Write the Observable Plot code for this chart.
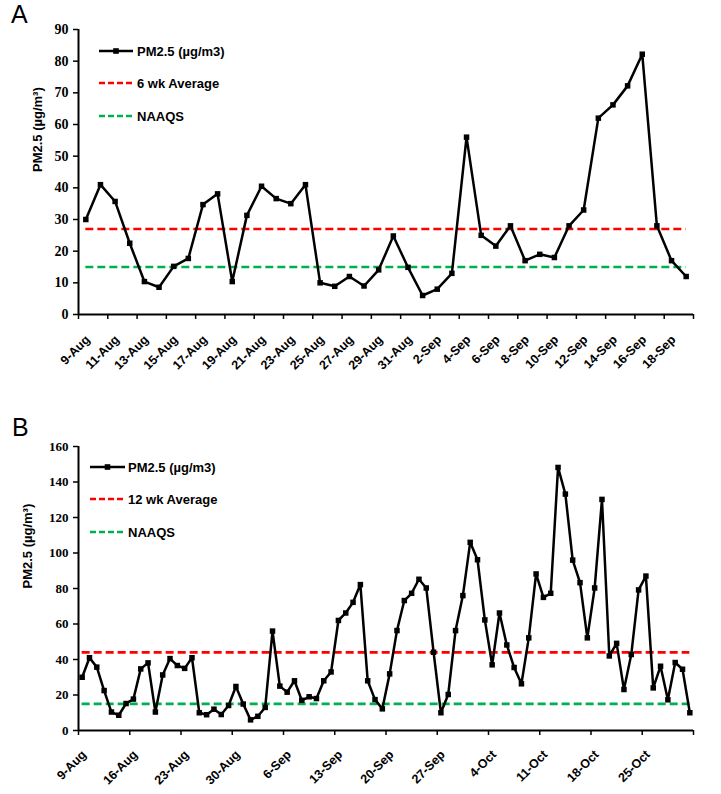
<!DOCTYPE html>
<html><head><meta charset="utf-8">
<script src="https://cdn.jsdelivr.net/npm/d3@7"></script>
<script src="https://cdn.jsdelivr.net/npm/@observablehq/plot@0.6"></script>
<style>
body{margin:0;background:#fff;}
#wrap{position:relative;width:721px;height:794px;overflow:hidden;background:#fff;}
.panel{position:absolute;left:0;z-index:1;}
.letter{position:absolute;z-index:3;font-family:"Liberation Sans",Arial,sans-serif;font-size:25px;line-height:1;color:#000;}
#overlay{position:absolute;left:0;top:0;z-index:2;pointer-events:none;}
</style></head>
<body><div id="wrap">
<div id="pa" class="panel" style="top:0"></div>
<div id="pb" class="panel" style="top:397px"></div>
<div class="letter" style="left:11px;top:2px">A</div>
<div class="letter" style="left:12px;top:415px">B</div>
</div>
<script>
// ---- data ----
const datesA = ["9-Aug","10-Aug","11-Aug","12-Aug","13-Aug","14-Aug","15-Aug","16-Aug","17-Aug","18-Aug","19-Aug","20-Aug","21-Aug","22-Aug","23-Aug","24-Aug","25-Aug","26-Aug","27-Aug","28-Aug","29-Aug","30-Aug","31-Aug","1-Sep","2-Sep","3-Sep","4-Sep","5-Sep","6-Sep","7-Sep","8-Sep","9-Sep","10-Sep","11-Sep","12-Sep","13-Sep","14-Sep","15-Sep","16-Sep","17-Sep","18-Sep","19-Sep"];
const valuesA = [30,41,35.7,22.5,10.4,8.6,15.2,17.7,34.7,38.1,10.4,31.3,40.5,36.6,35,41,10,8.9,12,9,14.1,24.8,14.9,6,8,13,56,25,21.6,28,17,19,18,28,33,62,66.2,72.2,82.2,28,17,12];
const tickLabelsA = ["9-Aug","11-Aug","13-Aug","15-Aug","17-Aug","19-Aug","21-Aug","23-Aug","25-Aug","27-Aug","29-Aug","31-Aug","2-Sep","4-Sep","6-Sep","8-Sep","10-Sep","12-Sep","14-Sep","16-Sep","18-Sep"];
const yTicksA = [0,10,20,30,40,50,60,70,80,90];
const averageA = 27;

const datesB = ["9-Aug","10-Aug","11-Aug","12-Aug","13-Aug","14-Aug","15-Aug","16-Aug","17-Aug","18-Aug","19-Aug","20-Aug","21-Aug","22-Aug","23-Aug","24-Aug","25-Aug","26-Aug","27-Aug","28-Aug","29-Aug","30-Aug","31-Aug","1-Sep","2-Sep","3-Sep","4-Sep","5-Sep","6-Sep","7-Sep","8-Sep","9-Sep","10-Sep","11-Sep","12-Sep","13-Sep","14-Sep","15-Sep","16-Sep","17-Sep","18-Sep","19-Sep","20-Sep","21-Sep","22-Sep","23-Sep","24-Sep","25-Sep","26-Sep","27-Sep","28-Sep","29-Sep","30-Sep","1-Oct","2-Oct","3-Oct","4-Oct","5-Oct","6-Oct","7-Oct","8-Oct","9-Oct","10-Oct","11-Oct","12-Oct","13-Oct","14-Oct","15-Oct","16-Oct","17-Oct","18-Oct","19-Oct","20-Oct","21-Oct","22-Oct","23-Oct","24-Oct","25-Oct","26-Oct","27-Oct","28-Oct","29-Oct","30-Oct","31-Oct"];
const valuesB = [30,41,35.7,22.5,10.4,8.6,15.2,17.7,34.7,38.1,10.4,31.3,40.5,36.6,35,41,10,8.9,12,9,14.1,24.8,14.9,6,8,13,56,25,21.6,28,17,19,18,28,33,62,66.2,72.2,82.2,28,17.4,12.2,
  31.9,56.3,73.2,77.3,85.2,80.3,44.1,10,20.3,56.3,76,106,96.2,62.3,37,66.2,48.2,35.5,26.3,52.2,88.2,75,77.3,148.2,133.2,96,83.3,52.2,80.3,130.2,42,49.1,23.1,42.8,79.2,87,24,36.2,17.3,38.3,34.5,10];
const tickLabelsB = ["9-Aug","16-Aug","23-Aug","30-Aug","6-Sep","13-Sep","20-Sep","27-Sep","4-Oct","11-Oct","18-Oct","25-Oct"];
const yTicksB = [0,20,40,60,80,100,120,140,160];
const averageB = 44;

const naaqs = 15;
const yLabel = "PM2.5 (µg/m³)";
const legendA = ["PM2.5 (µg/m3)", "6 wk Average", "NAAQS"];
const legendB = ["PM2.5 (µg/m3)", "12 wk Average", "NAAQS"];
const legendColors = ["#000000", "#ff0000", "#00b050"];

// ---- drawing ----
const SANS = '"Liberation Sans", Arial, sans-serif';
const SERIF = '"Liberation Serif", "Times New Roman", serif';

function chart(cfg) {
  const n = cfg.dates.length;
  const labelIdx = cfg.tickLabels.map(l => cfg.dates.indexOf(l));
  const bounds = labelIdx.map(i => i - 0.5).concat([n - 0.5]);
  return Plot.plot({
    width: 721, height: cfg.height,
    marginLeft: 78, marginRight: 28, marginTop: cfg.mt, marginBottom: cfg.mb,
    style: {background: "white", color: "black", overflow: "visible"},
    x: {type: "linear", domain: [-0.5, n - 0.5]},
    y: {domain: [0, cfg.yMax]},
    marks: [
      Plot.axisY({ticks: cfg.yTicks, tickSize: 5, tickPadding: 5, label: null, tickFormat: d => String(d),
        fontFamily: SERIF, fontWeight: "bold", fontSize: cfg.yFont, strokeWidth: 1.5}),
      Plot.axisX({ticks: bounds, tickSize: 5, tickFormat: () => "", label: null, strokeWidth: 1.5}),
      Plot.ruleY([cfg.avg], {x1: () => 0, x2: () => n - 1, stroke: legendColors[1], strokeWidth: 2.6, strokeDasharray: "8,4"}),
      Plot.ruleY([naaqs], {x1: () => 0, x2: () => n - 1, stroke: legendColors[2], strokeWidth: 2.6, strokeDasharray: "8,4"}),
      Plot.line(cfg.values, {x: (d, i) => i, y: d => d, stroke: "black", strokeWidth: 2.5}),
      Plot.dot(cfg.values, {x: (d, i) => i, y: d => d, symbol: "square", fill: "black", stroke: "none", r: 3.1}),
      Plot.ruleX([-0.5], {stroke: "black", strokeWidth: 2}),
      Plot.ruleY([0], {stroke: "black", strokeWidth: 2}),
      Plot.text(labelIdx, {x: d => d, y: 0, text: d => cfg.dates[d], rotate: -45, textAnchor: "end",
        dx: cfg.ldx, dy: cfg.ldy, fontFamily: SANS, fontWeight: "bold", fontSize: cfg.xFont}),
      Plot.text([yLabel], {frameAnchor: "left", text: d => d, rotate: -90, dx: cfg.ylDx,
        fontFamily: SANS, fontWeight: "bold", fontSize: 13})
    ]
  });
}

document.getElementById("pa").append(chart({
  dates: datesA, values: valuesA, tickLabels: tickLabelsA, yTicks: yTicksA, yMax: 90, avg: averageA,
  height: 397, mt: 29, mb: 83, yFont: 14, xFont: 12.5, ldx: 2, ldy: 23, ylDx: -41
}));
document.getElementById("pb").append(chart({
  dates: datesB, values: valuesB, tickLabels: tickLabelsB, yTicks: yTicksB, yMax: 160, avg: averageB,
  height: 397, mt: 49, mb: 64, yFont: 13, xFont: 12.5, ldx: 2, ldy: 22, ylDx: -51
}));

// legends (overlay)
function legend(svg, names, x0, x1, ys, tx) {
  names.forEach((name, k) => {
    const y = ys[k];
    const line = svg.append("line").attr("x1", x0).attr("x2", x1).attr("y1", y).attr("y2", y)
      .attr("stroke", legendColors[k]).attr("stroke-width", k === 0 ? 2.5 : 2.6);
    if (k === 0) {
      const m = (x0 + x1) / 2;
      svg.append("rect").attr("x", m - 2.8).attr("y", y - 2.8).attr("width", 5.6).attr("height", 5.6).attr("fill", "black");
    } else {
      line.attr("stroke-dasharray", "6,3");
    }
    svg.append("text").attr("x", tx).attr("y", y + 4.6).text(name)
      .attr("font-family", SANS).attr("font-weight", "bold").attr("font-size", 13).attr("fill", "black");
  });
}
const ov = d3.select("#wrap").append("svg").attr("id", "overlay").attr("width", 721).attr("height", 794);
legend(ov, legendA, 99, 133, [51, 83, 116], 137);
legend(ov, legendB, 90, 125, [467, 499, 532], 128);
</script>
</body></html>
